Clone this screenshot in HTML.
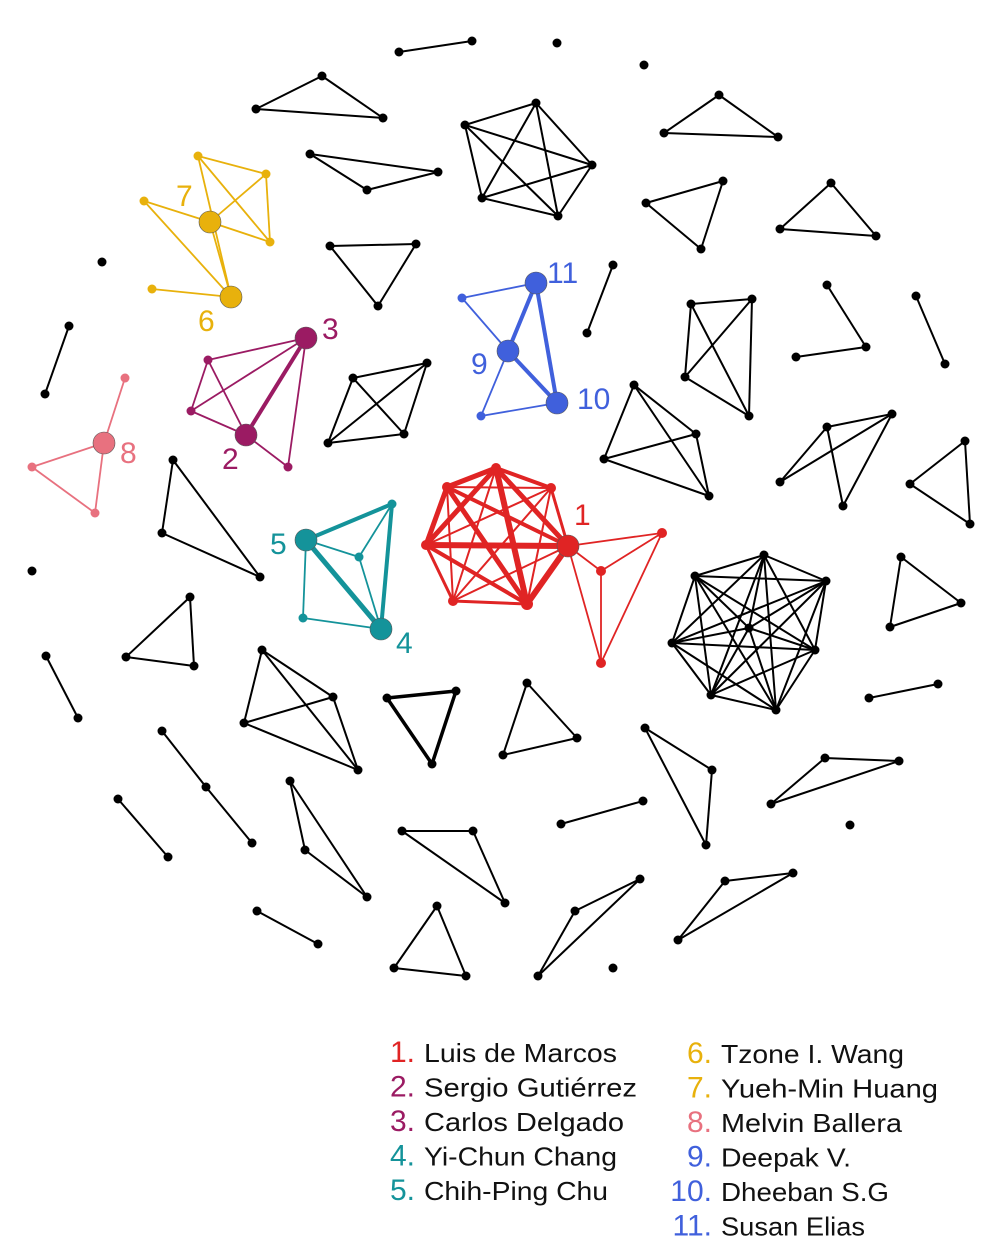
<!DOCTYPE html>
<html><head><meta charset="utf-8"><style>
html,body{margin:0;padding:0;background:#fff;}
svg{display:block;font-family:"Liberation Sans","DejaVu Sans",sans-serif;}
</style></head><body>
<svg id="chart" width="1000" height="1250" viewBox="0 0 1000 1250" xmlns="http://www.w3.org/2000/svg">
<g id="edges"></g>
<g id="nodes"></g>
<g id="labels"></g>
<g id="legend"></g>
</svg>
<script>
// node positions: [id, x, y, color, radius]
const nodeList = [
["a1",399,52],["a2",472,41],["b",557,43],["c",644,65],
["d1",256,109],["d2",322,76],["d3",383,118],
["e1",310,154],["e2",367,190],["e3",438,172],
["f1",465,125],["f2",536,103],["f3",592,165],["f4",558,216],["f5",482,198],
["g1",664,133],["g2",719,95],["g3",778,137],
["h1",646,203],["h2",723,181],["h3",701,249],
["i1",780,229],["i2",831,183],["i3",876,236],
["j1",330,246],["j2",416,244],["j3",378,306],
["k1",613,265],["k2",587,333],["l",102,262],["m1",69,326],["m2",45,394],
["n1",691,304],["n2",752,299],["n3",685,377],["n4",749,416],
["o1",827,285],["o2",866,347],["o3",796,357],["p1",916,296],["p2",945,364],
["q1",353,378],["q2",427,363],["q3",328,443],["q4",404,434],
["r1",634,385],["r2",696,434],["r3",604,459],["r4",709,496],
["s1",827,427],["s2",892,414],["s3",780,482],["s4",843,506],
["t1",910,484],["t2",965,441],["t3",970,524],
["u1",173,460],["u2",162,533],["u3",260,577],["v",32,571],
["w1",695,576],["w2",764,555],["w3",826,581],["w4",672,643],["w5",749,628],["w6",815,650],["w7",711,695],["w8",776,710],
["x1",901,557],["x2",961,603],["x3",890,627],
["y1",190,597],["y2",126,657],["y3",194,666],["z1",46,656],["z2",78,718],
["A1",262,650],["A2",333,697],["A3",244,723],["A4",358,770],
["B1",387,698],["B2",456,691],["B3",432,764],
["C1",527,683],["C2",577,738],["C3",503,755],["D1",869,698],["D2",938,684],
["E1",645,728],["E2",712,770],["E3",706,845],
["F1",825,758],["F2",899,761],["F3",771,804],
["G1",162,731],["G2",206,787],["G3",252,843],["H1",118,799],["H2",168,857],["I",850,825],
["J1",561,824],["J2",643,801],
["K1",290,781],["K2",305,850],["K3",367,897],
["L1",402,831],["L2",473,831],["L3",505,903],
["M1",437,906],["M2",394,968],["M3",466,976],
["N1",575,911],["N2",640,879],["N3",538,976],
["O1",725,881],["O2",793,873],["O3",678,940],
["P1",257,911],["P2",318,944],["Q",613,968],
["A7",210,222,"#e8b10c",11],["y_a",198,156,"#e8b10c",4.5],["y_b",266,174,"#e8b10c",4.5],["y_c",144,201,"#e8b10c",4.5],["y_d",270,242,"#e8b10c",4.5],["y_e",152,289,"#e8b10c",4.5],["A6",231,297,"#e8b10c",11],
["A3p",306,338,"#9b1b63",11],["A2p",246,435,"#9b1b63",11],["p_a",208,360,"#9b1b63",4.5],["p_b",191,411,"#9b1b63",4.5],["p_c",288,467,"#9b1b63",4.5],
["A8",104,443,"#e8717f",11],["k_a",125,378,"#e8717f",4.5],["k_b",32,467,"#e8717f",4.5],["k_c",95,513,"#e8717f",4.5],
["A5",306,540,"#14939a",11],["A4t",381,629,"#14939a",11],["t_a",392,504,"#14939a",4.5],["t_b",359,557,"#14939a",4.5],["t_c",303,618,"#14939a",4.5],
["A11",536,283,"#4060dc",11],["A9",508,351,"#4060dc",11],["A10",557,403,"#4060dc",11],["b_a",462,298,"#4060dc",4.5],["b_b",481,416,"#4060dc",4.5],
["A1r",568,546,"#e02424",11],["r_a",447,487,"#e02424",5],["r_b",496,468,"#e02424",5],["r_c",551,488,"#e02424",5],["r_d",426,545,"#e02424",5],["r_e",453,601,"#e02424",5],["r_f",527,604,"#e02424",6],["r_g",662,533,"#e02424",5],["r_h",601,571,"#e02424",5],["r_i",601,663,"#e02424",5]
];
// edges: [from, to, width]
const edgeList = [
["a1","a2"],["d1","d2"],["d2","d3"],["d1","d3"],["e1","e2"],["e2","e3"],["e1","e3"],
["f1","f2"],["f1","f3"],["f1","f4"],["f1","f5"],["f2","f3"],["f2","f4"],["f2","f5"],["f3","f4"],["f3","f5"],["f4","f5"],
["g1","g2"],["g2","g3"],["g1","g3"],["h1","h2"],["h2","h3"],["h1","h3"],["i1","i2"],["i2","i3"],["i1","i3"],
["j1","j2"],["j2","j3"],["j1","j3"],["k1","k2"],["m1","m2"],
["n1","n2"],["n1","n3"],["n1","n4"],["n2","n3"],["n2","n4"],["n3","n4"],
["o1","o2"],["o2","o3"],["p1","p2"],
["q1","q2"],["q1","q3"],["q1","q4"],["q2","q3"],["q2","q4"],["q3","q4"],
["r1","r2"],["r1","r3"],["r1","r4"],["r2","r3"],["r2","r4"],["r3","r4"],
["s1","s2"],["s1","s3"],["s1","s4"],["s2","s3"],["s2","s4"],
["t1","t2"],["t2","t3"],["t1","t3"],["u1","u2"],["u2","u3"],["u1","u3"],
["w1","w2"],["w1","w3"],["w1","w4"],["w1","w5"],["w1","w6"],["w1","w7"],["w1","w8"],
["w2","w3"],["w2","w4"],["w2","w5"],["w2","w6"],["w2","w7"],["w2","w8"],
["w3","w4"],["w3","w5"],["w3","w6"],["w3","w7"],["w3","w8"],
["w4","w5"],["w4","w6"],["w4","w7"],["w4","w8"],["w5","w6"],["w5","w7"],["w5","w8"],["w6","w7"],["w6","w8"],["w7","w8"],
["x1","x2"],["x2","x3"],["x1","x3"],["y1","y2"],["y2","y3"],["y1","y3"],["z1","z2"],
["A1","A2"],["A1","A3"],["A1","A4"],["A2","A3"],["A3","A4"],["A2","A4"],
["B1","B2",3.5],["B2","B3",3.5],["B1","B3",3.5],
["C1","C2"],["C2","C3"],["C1","C3"],["D1","D2"],
["E1","E2"],["E2","E3"],["E1","E3"],["F1","F2"],["F2","F3"],["F1","F3"],
["G1","G2"],["G2","G3"],["H1","H2"],["J1","J2"],
["K1","K2"],["K2","K3"],["K1","K3"],["L1","L2"],["L2","L3"],["L1","L3"],
["M1","M2"],["M2","M3"],["M1","M3"],["N1","N2"],["N2","N3"],["N1","N3"],
["O1","O2"],["O2","O3"],["O1","O3"],["P1","P2"],
["y_a","y_b"],["y_a","y_d"],["y_a","A6"],["y_b","A7"],["y_b","y_d"],["y_c","A7"],["A7","y_d"],["A7","A6"],["y_e","A6"],["y_c","A6"],
["A3p","A2p",4],["A3p","p_a"],["A3p","p_b"],["A3p","p_c"],["p_a","p_b"],["p_a","A2p"],["p_b","A2p"],["A2p","p_c"],
["A8","k_a"],["A8","k_b"],["A8","k_c"],["k_b","k_c"],
["A5","A4t",5],["A5","t_a",4],["t_a","A4t",4],["A5","t_b"],["t_b","t_a"],["t_b","A4t"],["A5","t_c"],["t_c","A4t"],
["A11","A9",4],["A11","A10",4],["A9","A10",4],["b_a","A11"],["b_a","A9"],["A9","b_b"],["b_b","A10"],
["r_a","r_b",5],["r_a","r_c",2],["r_a","r_d",5],["r_a","r_e",2],["r_a","r_f",5],["r_a","A1r",4],
["r_b","r_c",4],["r_b","r_d",5],["r_b","r_e",2],["r_b","r_f",6],["r_b","A1r",5],
["r_c","r_d",2],["r_c","r_e",2],["r_c","r_f",2],["r_c","A1r",3],
["r_d","r_e",3],["r_d","r_f",4],["r_d","A1r",6],["r_e","r_f",3],["r_e","A1r",2],["r_f","A1r",6],
["A1r","r_g"],["A1r","r_h"],["A1r","r_i"],["r_g","r_h"],["r_g","r_i"],["r_h","r_i"]
];
const nodeLabels = [["A1r","1",574,513,"#e02424"],["A2p","2",222,457,"#9b1b63"],["A3p","3",322,327,"#9b1b63"],["A4t","4",396,641,"#14939a"],["A5","5",270,542,"#14939a"],["A6","6",198,319,"#e8b10c"],["A7","7",176,194,"#e8b10c"],["A8","8",120,451,"#e8717f"],["A9","9",471,362,"#4060dc"],["A10","10",577,397,"#4060dc"],["A11","11",547,271,"#4060dc"]];
const legendNums = ["1.","2.","3.","4.","5.","6.","7.","8.","9.","10.","11."];
const legendNames = ["Luis de Marcos","Sergio Gutiérrez","Carlos Delgado","Yi-Chun Chang","Chih-Ping Chu","Tzone I. Wang","Yueh-Min Huang","Melvin Ballera","Deepak V.","Dheeban S.G","Susan Elias"];
const legendColors = ["#e02424","#9b1b63","#9b1b63","#14939a","#14939a","#e8b10c","#e8b10c","#e8717f","#4060dc","#4060dc","#4060dc"];
const legendWidths = [193,213,200,193,184,183,217,181,130,168,144];

const NS="http://www.w3.org/2000/svg";
const pos={};
nodeList.forEach(n=>pos[n[0]]=n);
const eg=document.getElementById('edges');
edgeList.forEach(e=>{
  const a=pos[e[0]],b=pos[e[1]];
  const l=document.createElementNS(NS,'line');
  l.setAttribute('x1',a[1]);l.setAttribute('y1',a[2]);l.setAttribute('x2',b[1]);l.setAttribute('y2',b[2]);
  l.setAttribute('stroke',a[3]||'#000');
  l.setAttribute('stroke-width',e[2]||(a[3]?1.8:2));
  
  
  eg.appendChild(l);
});
const ng=document.getElementById('nodes');
nodeList.forEach(n=>{
  const c=document.createElementNS(NS,'circle');
  c.setAttribute('cx',n[1]);c.setAttribute('cy',n[2]);c.setAttribute('r',n[4]||4.5);
  c.setAttribute('fill',n[3]||'#000');
  if(n[4]>6){c.setAttribute('stroke','#555');c.setAttribute('stroke-width','0.6');}
  
  
  ng.appendChild(c);
});
const lg=document.getElementById('labels');
nodeLabels.forEach(l=>{
  const t=document.createElementNS(NS,'text');
  t.setAttribute('x',l[2]);t.setAttribute('y',l[3]+12);
  t.setAttribute('fill',l[4]);t.setAttribute('font-size','30');
  t.textContent=l[1];
  
  
  lg.appendChild(t);
});
const leg=document.getElementById('legend');
legendNames.forEach((name,i)=>{
  const col=i<5?0:1, row=i<5?i:i-5;
  const nx=col?712:415, y=(col?1063:1062)+row*34.5;
  const t=document.createElementNS(NS,'text');
  t.setAttribute('x',nx);t.setAttribute('y',y);t.setAttribute('text-anchor','end');
  t.setAttribute('fill',legendColors[i]);t.setAttribute('font-size','30');
  t.textContent=legendNums[i];
  
  
  leg.appendChild(t);
  const s=document.createElementNS(NS,'text');
  s.setAttribute('x',nx+9);s.setAttribute('y',y);
  s.setAttribute('fill','#111');s.setAttribute('font-size','26');
  s.setAttribute('textLength',legendWidths[i]);s.setAttribute('lengthAdjust','spacingAndGlyphs');
  s.textContent=name;
  
  
  leg.appendChild(s);
});
</script>
</body></html>
